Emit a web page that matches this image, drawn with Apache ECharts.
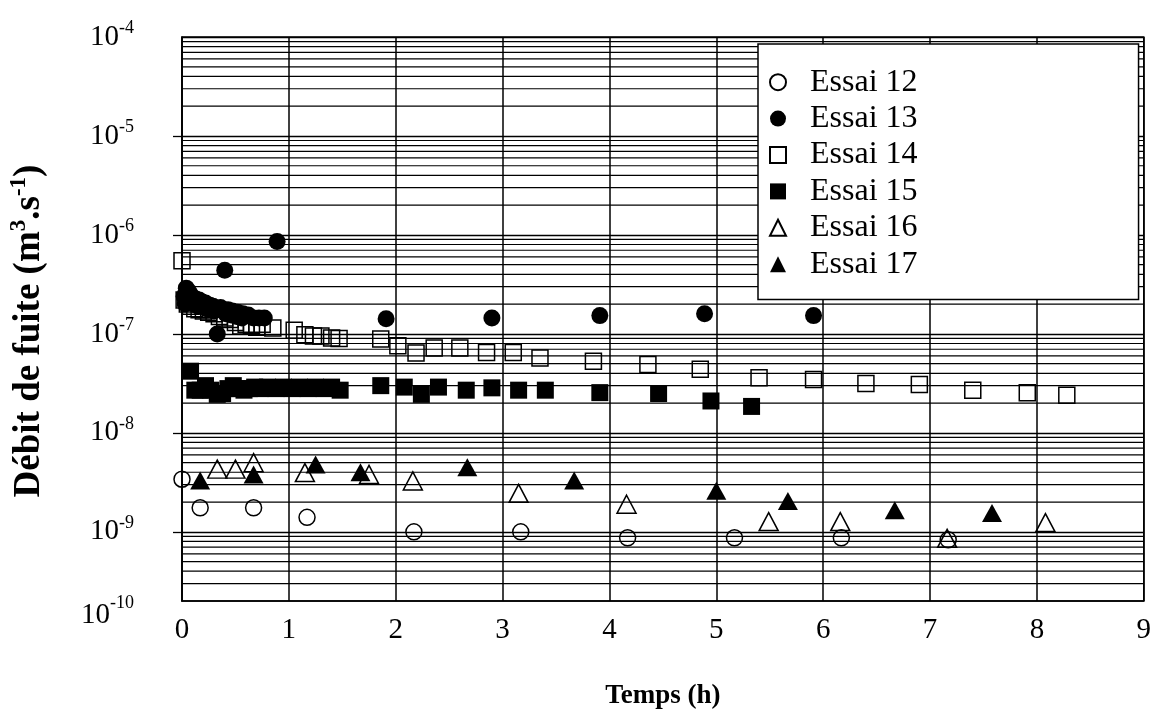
<!DOCTYPE html>
<html><head><meta charset="utf-8">
<script src="https://cdn.jsdelivr.net/npm/echarts@6/dist/echarts.min.js"></script>
<style>html,body{margin:0;padding:0;background:#fff}#c{width:1154px;height:728px}</style>
</head><body><div id="c"></div>
<script>
const seriesNames = ['Essai 12', 'Essai 13', 'Essai 14', 'Essai 15', 'Essai 16', 'Essai 17'];
const essai12 = [[0,3.4e-9],[0.17,1.75e-9],[0.67,1.75e-9],[1.17,1.4e-9],[2.17,1.0e-9],[3.17,1.0e-9],[4.17,8.7e-10],[5.17,8.7e-10],[6.17,8.7e-10],[7.17,8.3e-10]];
const essai13 = [[0.02,2.4e-7],[0.03,2.0e-7],[0.04,2.9e-7],[0.06,2.7e-7],[0.07,2.1e-7],[0.08,2.5e-7],[0.1,2.3e-7],[0.11,2.0e-7],[0.13,2.25e-7],[0.15,1.9e-7],[0.16,2.2e-7],[0.19,2.1e-7],[0.2,1.85e-7],[0.22,2.05e-7],[0.25,1.75e-7],[0.26,1.95e-7],[0.29,1.9e-7],[0.3,1.7e-7],[0.33,1.0e-7],[0.36,1.85e-7],[0.4,4.4e-7],[0.41,1.6e-7],[0.43,1.75e-7],[0.46,1.55e-7],[0.47,1.7e-7],[0.51,1.5e-7],[0.52,1.65e-7],[0.56,1.45e-7],[0.57,1.6e-7],[0.62,1.55e-7],[0.67,1.45e-7],[0.72,1.45e-7],[0.77,1.45e-7],[0.89,8.6e-7],[1.91,1.42e-7],[2.9,1.45e-7],[3.91,1.53e-7],[4.89,1.6e-7],[5.91,1.53e-7]];
const essai14 = [[0,5.5e-7],[0.02,2.2e-7],[0.05,2.0e-7],[0.08,1.9e-7],[0.12,1.8e-7],[0.16,1.75e-7],[0.2,1.7e-7],[0.25,1.65e-7],[0.3,1.6e-7],[0.35,1.5e-7],[0.4,1.45e-7],[0.45,1.4e-7],[0.5,1.3e-7],[0.55,1.2e-7],[0.6,1.25e-7],[0.65,1.22e-7],[0.7,1.17e-7],[0.75,1.25e-7],[0.85,1.15e-7],[1.05,1.09e-7],[1.15,9.8e-8],[1.23,9.5e-8],[1.3,9.5e-8],[1.4,9.1e-8],[1.47,9.0e-8],[1.86,8.9e-8],[2.02,7.6e-8],[2.19,6.4e-8],[2.36,7.2e-8],[2.6,7.2e-8],[2.85,6.5e-8],[3.1,6.5e-8],[3.35,5.7e-8],[3.85,5.3e-8],[4.36,4.9e-8],[4.85,4.4e-8],[5.4,3.6e-8],[5.91,3.47e-8],[6.4,3.16e-8],[6.9,3.08e-8],[7.4,2.7e-8],[7.91,2.54e-8],[8.28,2.4e-8]];
const essai15 = [[0.08,4.2e-8],[0.12,2.7e-8],[0.17,2.7e-8],[0.22,3.0e-8],[0.27,2.7e-8],[0.33,2.45e-8],[0.38,2.5e-8],[0.43,2.8e-8],[0.48,3.0e-8],[0.53,2.8e-8],[0.58,2.7e-8],[0.63,2.8e-8],[0.68,2.9e-8],[0.73,2.8e-8],[0.8,2.9e-8],[0.88,2.8e-8],[0.95,2.9e-8],[1.03,2.8e-8],[1.1,2.9e-8],[1.18,2.8e-8],[1.25,2.9e-8],[1.33,2.8e-8],[1.4,2.9e-8],[1.48,2.7e-8],[1.86,3.0e-8],[2.08,2.9e-8],[2.24,2.45e-8],[2.4,2.9e-8],[2.66,2.7e-8],[2.9,2.85e-8],[3.15,2.7e-8],[3.4,2.7e-8],[3.91,2.55e-8],[4.46,2.5e-8],[4.95,2.1e-8],[5.33,1.85e-8]];
const essai16 = [[0.33,4.3e-9],[0.5,4.3e-9],[0.67,5.0e-9],[1.15,3.97e-9],[1.75,3.8e-9],[2.16,3.27e-9],[3.15,2.45e-9],[4.16,1.9e-9],[5.49,1.27e-9],[6.16,1.27e-9],[7.16,8.6e-10],[8.08,1.24e-9]];
const essai17 = [[0.17,3.3e-9],[0.67,3.8e-9],[1.25,4.8e-9],[1.67,4.0e-9],[2.67,4.5e-9],[3.67,3.3e-9],[5.0,2.6e-9],[5.67,2.05e-9],[6.67,1.65e-9],[7.58,1.55e-9]];
const xMin = 0, xMax = 9, xStep = 1;
const yMin = 2e-10, yMax = 1e-4;
const decadeExponents = [-10, -9, -8, -7, -6, -5];
const tickExponents = [-9, -8, -7, -6, -5, -4];
const minorMultipliers = [2, 3, 4, 5, 6, 7, 8, 9];
const xTitle = 'Temps (h)';

const FF = "'Liberation Serif','Times New Roman',serif";
const minorGrid = [];
decadeExponents.forEach(e => minorMultipliers.forEach(m => {
  const v = m * Math.pow(10, e);
  if (v > yMin * 1.01 && v < yMax) minorGrid.push([xMin, v]);
}));
const tickValues = tickExponents.map(e => Math.pow(10, e));

const openStyle = { color: 'rgba(0,0,0,0)', borderColor: '#000', borderWidth: 1.5, opacity: 1 };
const fillStyle = { color: '#000', borderColor: '#000', borderWidth: 0, opacity: 1 };
function sc(name, data, symbol, size, style) {
  return { name, type: 'scatter', data, symbol, symbolSize: size, itemStyle: style, z: 5, silent: true };
}

const chart = echarts.init(document.getElementById('c'), null, { renderer: 'canvas' });
chart.setOption({
  animation: false,
  backgroundColor: '#fff',
  grid: { left: 179, right: 7, top: 37, bottom: 127, show: true, borderColor: '#000', borderWidth: 1.5, backgroundColor: '#fff' },
  xAxis: {
    type: 'value', min: xMin, max: xMax, interval: xStep,
    axisLine: { show: true, lineStyle: { color: '#000', width: 1.5 } },
    axisTick: { show: false },
    splitLine: { show: true, lineStyle: { color: '#000', width: 1.5 } },
    axisLabel: { color: '#000', fontFamily: FF, fontSize: 29, margin: 15 },
    name: xTitle, nameLocation: 'middle', nameGap: 82,
    nameTextStyle: { color: '#000', fontFamily: FF, fontSize: 27, fontWeight: 'bold' }
  },
  yAxis: {
    type: 'log', logBase: 10, min: yMin, max: yMax,
    axisLine: { show: true, lineStyle: { color: '#000', width: 1.5 } },
    axisTick: { show: true, inside: false, length: 9, customValues: tickValues, lineStyle: { color: '#000', width: 1.3 } },
    splitLine: { show: true, lineStyle: { color: '#000', width: 1.3 } },
    axisLabel: {
      margin: 48,
      formatter: function (v) {
        if (v < 5e-10) return '{g| }{lb|10}{ls|-10}';
        return '{b|10}{s|' + Math.round(Math.log10(v)) + '}';
      },
      rich: {
        b: { fontFamily: FF, fontSize: 29, color: '#000', lineHeight: 36 },
        s: { fontFamily: FF, fontSize: 18, color: '#000', lineHeight: 18, verticalAlign: 'top' },
        g: { fontSize: 1, lineHeight: 58, width: 0 },
        lb: { fontFamily: FF, fontSize: 29, color: '#000', lineHeight: 36, verticalAlign: 'bottom' },
        ls: { fontFamily: FF, fontSize: 18, color: '#000', lineHeight: 18, verticalAlign: 'bottom', padding: [0, 0, 18, 0] }
      }
    },
    name: '{t|Débit de fuite (m}{p|3}{t|.s}{p|-1}{t|)}',
    nameLocation: 'middle', nameGap: 132,
    nameTextStyle: {
      padding: [0, 24, 0, 0],
      rich: {
        t: { fontFamily: FF, fontSize: 37, fontWeight: 'bold', color: '#000', lineHeight: 42 },
        p: { fontFamily: FF, fontSize: 23, fontWeight: 'bold', color: '#000', lineHeight: 23, verticalAlign: 'top' }
      }
    }
  },
  legend: {
    data: seriesNames, orient: 'vertical', left: 758, top: 44,
    padding: [20, 221, 17, 11], itemGap: 0, itemWidth: 16, itemHeight: 16,
    backgroundColor: '#fff', borderColor: '#000', borderWidth: 1.5,
    textStyle: { fontFamily: FF, fontSize: 32, color: '#000', lineHeight: 36.4, padding: [0, 0, 0, 19] },
    selectedMode: false, z: 20
  },
  series: [
    { name: 'minor grid', type: 'custom', data: minorGrid, z: 1, silent: true, clip: true,
      renderItem: function (params, api) {
        const v = api.value(1);
        const p0 = api.coord([xMin, v]);
        const p1 = api.coord([xMax, v]);
        return { type: 'line', shape: { x1: p0[0], y1: p0[1], x2: p1[0], y2: p1[1] },
          style: { stroke: '#000', lineWidth: 1.2 } };
      } },
    sc('Essai 12', essai12, 'circle', 16, openStyle),
    sc('Essai 13', essai13, 'circle', 17, fillStyle),
    sc('Essai 14', essai14, 'rect', 16, openStyle),
    sc('Essai 15', essai15, 'rect', 17, fillStyle),
    sc('Essai 16', essai16, 'triangle', [19, 18], openStyle),
    sc('Essai 17', essai17, 'triangle', [20, 18], fillStyle)
  ]
});
</script></body></html>
